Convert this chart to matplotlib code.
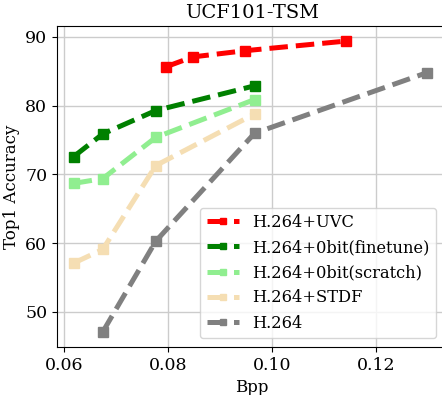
import matplotlib
matplotlib.use("Agg")
import matplotlib.pyplot as plt

plt.rcParams['font.family'] = ['DejaVu Serif']

uvc_x = [0.0796, 0.0848, 0.0948, 0.1142]
uvc_y = [85.65, 87.1, 88.0, 89.4]
ft_x = [0.0619, 0.0675, 0.0777, 0.0967]
ft_y = [72.6, 75.9, 79.3, 82.9]
sc_x = [0.0619, 0.0675, 0.0777, 0.0967]
sc_y = [68.7, 69.4, 75.4, 80.9]
stdf_x = [0.0619, 0.0675, 0.0777, 0.0967]
stdf_y = [57.1, 59.1, 71.3, 78.8]
h264_x = [0.0675, 0.0777, 0.0967, 0.1298]
h264_y = [47.1, 60.3, 76.0, 84.8]

labels = ['H.264+UVC', 'H.264+0bit(finetune)', 'H.264+0bit(scratch)', 'H.264+STDF', 'H.264']
colors = ['red', 'green', 'lightgreen', 'wheat', 'gray']
series = [(uvc_x, uvc_y), (ft_x, ft_y), (sc_x, sc_y), (stdf_x, stdf_y), (h264_x, h264_y)]

fig = plt.figure(figsize=(4.42, 3.95), dpi=100)
ax = fig.add_axes([57/442, 1-347/395, 390/442, (347-26)/395])
for (x, y), c, l in zip(series, colors, labels):
    ax.plot(x, y, '--s', color=c, label=l, lw=3.6, ms=6.5)

ax.set_xlim(0.0587, 0.1337)
ax.set_ylim(44.9, 91.6)
ax.set_xticks([0.06, 0.08, 0.10, 0.12])
ax.set_yticks([50, 60, 70, 80, 90])
ax.tick_params(labelsize=12.5)
ax.spines['right'].set_visible(False)
ax.grid(True, color='#cccccc', lw=1)
ax.set_axisbelow(True)
ax.set_xlabel('Bpp', fontsize=12)
ax.set_ylabel('Top1 Accuracy', fontsize=12)
ax.set_title('UCF101-TSM', fontsize=14)
ax.legend(loc='lower right', fontsize=11.7, borderaxespad=0, markerscale=0.75,
          bbox_to_anchor=((436-57)/390, (347-338)/321))
fig.savefig('out.png', dpi=100)
